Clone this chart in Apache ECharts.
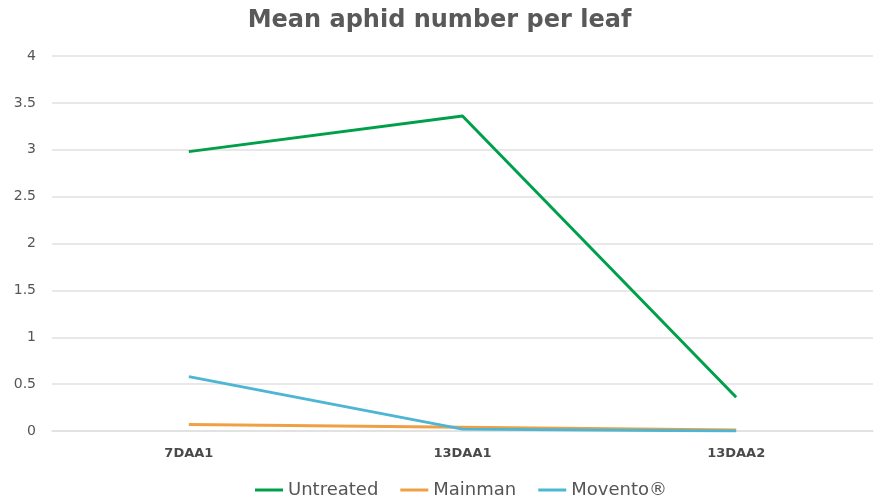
<!DOCTYPE html>
<html>
<head>
<meta charset="utf-8">
<script src="https://cdn.jsdelivr.net/npm/echarts@6/dist/echarts.min.js"></script>
<style>
  html, body { margin: 0; padding: 0; background: #fff; }
  #chart { width: 879px; height: 499px; }
</style>
</head>
<body>
<div id="chart"></div>
<script>
const categories = ['7DAA1', '13DAA1', '13DAA2']
const untreated = [2.98, 3.36, 0.36]
const mainman = [0.07, 0.04, 0.01]
const movento = [0.58, 0.02, 0.0]
const yTicks = { min: 0, max: 4, interval: 0.5 }

const chart = echarts.init(document.getElementById('chart'))

function lineSeries(name, data, color) {
  return {
    name: name,
    type: 'line',
    data: data,
    symbol: 'none',
    lineStyle: { color: color, width: 3 },
    itemStyle: { color: color }
  }
}

chart.setOption({
  backgroundColor: '#fff',
  animation: false,
  textStyle: { fontFamily: '"DejaVu Sans", sans-serif' },
  title: {
    text: 'Mean aphid number per leaf',
    left: 'center',
    top: 4,
    textStyle: { color: '#595959', fontSize: 24, fontWeight: 'bold', fontFamily: '"DejaVu Sans", sans-serif' }
  },
  legend: {
    bottom: -5,
    left: 250,
    itemWidth: 28,
    itemHeight: 3,
    itemGap: 22,
    icon: 'rect',
    textStyle: { color: '#555555', fontSize: 18 },
    data: ['Untreated', 'Mainman', 'Movento®']
  },
  grid: { left: 52, right: 6, top: 56, bottom: 68, containLabel: false },
  xAxis: {
    type: 'category',
    data: categories,
    boundaryGap: true,
    axisLine: { show: true, lineStyle: { color: '#e0e0e0', width: 1.5 } },
    axisTick: { show: false },
    axisLabel: { color: '#4a4a4a', fontSize: 13, fontWeight: 'bold', margin: 16 }
  },
  yAxis: {
    type: 'value',
    min: yTicks.min,
    max: yTicks.max,
    interval: yTicks.interval,
    axisLine: { show: false },
    axisTick: { show: false },
    axisLabel: { color: '#555555', fontSize: 14, margin: 16 },
    splitLine: { lineStyle: { color: '#e0e0e0', width: 1.5 } }
  },
  series: [
    lineSeries('Untreated', untreated, '#00a04b'),
    lineSeries('Mainman', mainman, '#f0a044'),
    lineSeries('Movento®', movento, '#4cb6d4')
  ]
})
</script>
</body>
</html>
